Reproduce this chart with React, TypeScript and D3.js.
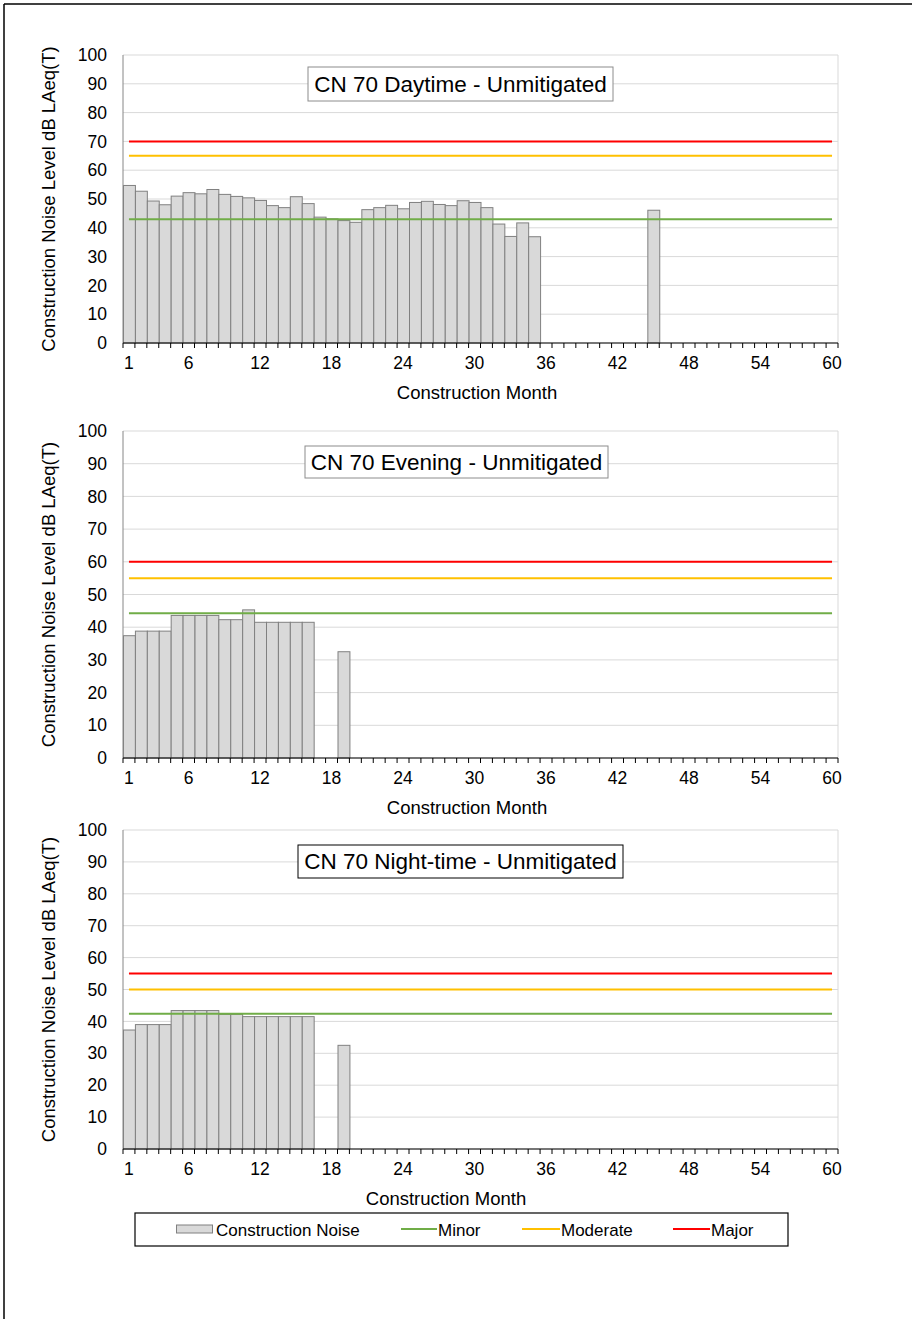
import React from "react";
import * as d3 from "d3";

const months: number[] = Array.from({ length: 60 }, (_, i) => i + 1);
const xTickLabels: number[] = [1, 6, 12, 18, 24, 30, 36, 42, 48, 54, 60];
const yTicks: number[] = [0, 10, 20, 30, 40, 50, 60, 70, 80, 90, 100];

// month -> level (null = no bar)
const daytimeValues: (number | null)[] = [
  54.7, 52.7, 49.3, 48.0, 51.0, 52.2, 51.8, 53.3, 51.6, 50.9,
  50.4, 49.5, 47.7, 47.0, 50.8, 48.4, 43.7, 43.1, 42.5, 41.9,
  46.3, 47.0, 47.8, 46.6, 48.8, 49.2, 48.1, 47.7, 49.4, 48.8,
  47.0, 41.3, 37.0, 41.7, 36.9, null, null, null, null, null,
  null, null, null, null, 46.1, null, null, null, null, null,
  null, null, null, null, null, null, null, null, null, null,
];
const eveningValues: (number | null)[] = [
  37.4, 38.8, 38.8, 38.8, 43.6, 43.6, 43.6, 43.6, 42.3, 42.3,
  45.3, 41.5, 41.5, 41.5, 41.5, 41.5, null, null, 32.5, null,
  ...Array(40).fill(null),
];
const nightValues: (number | null)[] = [
  37.3, 39.0, 39.0, 39.0, 43.4, 43.4, 43.4, 43.4, 42.2, 42.2,
  41.5, 41.5, 41.5, 41.5, 41.5, 41.5, null, null, 32.5, null,
  ...Array(40).fill(null),
];

const daytimeThresholds = { minor: 43, moderate: 65, major: 70 };
const eveningThresholds = { minor: 44.3, moderate: 55, major: 60 };
const nightThresholds = { minor: 42.4, moderate: 50, major: 55 };

const titles = [
  "CN 70 Daytime - Unmitigated",
  "CN 70 Evening - Unmitigated",
  "CN 70 Night-time - Unmitigated",
];

const legendLabels = ["Construction Noise", "Minor", "Moderate", "Major"];

const FONT = "'Liberation Sans', Arial, sans-serif";
const COLORS = { bar: "#d9d9d9", barStroke: "#808080", minor: "#70ad47", moderate: "#ffc000", major: "#ff0000", grid: "#d9d9d9" };

type PanelProps = {
  top: number;
  bottom: number;
  values: (number | null)[];
  thr: { minor: number; moderate: number; major: number };
  title: string;
  titleBox: [number, number, number, number];
  titleBorder: string;
  xTitleX: number;
};

const LEFT = 123;
const RIGHT = 838;

function Panel({ top, bottom, values, thr, title, titleBox, titleBorder, xTitleX }: PanelProps) {
  const x = d3.scaleBand<number>().domain(months).range([LEFT, RIGHT]).padding(0);
  const y = d3.scaleLinear().domain([0, 100]).range([bottom, top]);
  const bw = x.bandwidth();
  const x1 = (x(1) as number) + bw / 2;
  const x60 = (x(60) as number) + bw / 2;
  return (
    <g>
      {yTicks.map((t) => (
        <line key={"g" + t} x1={LEFT} x2={RIGHT} y1={y(t)} y2={y(t)} stroke={COLORS.grid} strokeWidth={1} />
      ))}
      <line x1={RIGHT} x2={RIGHT} y1={top} y2={bottom} stroke={COLORS.grid} strokeWidth={1} />
      {values.map((v, i) =>
        v == null ? null : (
          <rect
            key={"b" + i}
            x={(x(months[i]) as number) + 0.5}
            y={y(v)}
            width={bw}
            height={bottom - y(v)}
            fill={COLORS.bar}
            stroke={COLORS.barStroke}
            strokeWidth={1}
          />
        )
      )}
      <line x1={x1} x2={x60} y1={y(thr.minor)} y2={y(thr.minor)} stroke={COLORS.minor} strokeWidth={2} />
      <line x1={x1} x2={x60} y1={y(thr.moderate)} y2={y(thr.moderate)} stroke={COLORS.moderate} strokeWidth={2} />
      <line x1={x1} x2={x60} y1={y(thr.major)} y2={y(thr.major)} stroke={COLORS.major} strokeWidth={2} />
      <line x1={LEFT} x2={LEFT} y1={top} y2={bottom} stroke="#868686" strokeWidth={1} />
      <line x1={LEFT} x2={RIGHT} y1={bottom} y2={bottom} stroke="#000" strokeWidth={1.2} />
      {d3.range(61).map((k) => {
        const xx = LEFT + k * bw;
        return <line key={"t" + k} x1={xx} x2={xx} y1={bottom} y2={bottom + 5} stroke="#000" strokeWidth={1} />;
      })}
      {yTicks.map((t) => (
        <text key={"yl" + t} x={107} y={y(t)} dy="0.35em" textAnchor="end" fontSize={17.5} fontFamily={FONT} fill="#000">
          {t}
        </text>
      ))}
      {xTickLabels.map((m) => (
        <text key={"xl" + m} x={(x(m) as number) + bw / 2} y={bottom + 26} textAnchor="middle" fontSize={17.5} fontFamily={FONT} fill="#000">
          {m}
        </text>
      ))}
      <text x={xTitleX} y={bottom + 56} textAnchor="middle" fontSize={18.5} fontFamily={FONT} fill="#000">
        Construction Month
      </text>
      <text
        transform={`translate(55,${(top + bottom) / 2}) rotate(-90)`}
        textAnchor="middle"
        fontSize={18.5}
        fontFamily={FONT}
        fill="#000"
      >
        Construction Noise Level dB LAeq(T)
      </text>
      <rect x={titleBox[0]} y={titleBox[1]} width={titleBox[2] - titleBox[0]} height={titleBox[3] - titleBox[1]} fill="#fff" stroke={titleBorder} strokeWidth={1} />
      <text x={(titleBox[0] + titleBox[2]) / 2} y={(titleBox[1] + titleBox[3]) / 2} dy="0.35em" textAnchor="middle" fontSize={22.5} fontFamily={FONT} fill="#000">
        {title}
      </text>
    </g>
  );
}

export default function App() {
  return (
    <svg
      width={912}
      height={1319}
      style={{ position: "absolute", left: 0, top: 0, background: "#fff" }}
      xmlns="http://www.w3.org/2000/svg"
    >
      <rect x={0} y={0} width={912} height={1319} fill="#fff" />
      <line x1={4} x2={4} y1={4} y2={1319} stroke="#000" strokeWidth={1.5} />
      <line x1={4} x2={912} y1={4} y2={4} stroke="#000" strokeWidth={1.5} />
      <Panel top={55} bottom={343} values={daytimeValues} thr={daytimeThresholds} title={titles[0]} titleBox={[308, 67, 613, 101]} titleBorder="#8c8c8c" xTitleX={477} />
      <Panel top={431} bottom={758} values={eveningValues} thr={eveningThresholds} title={titles[1]} titleBox={[305, 446, 608, 478]} titleBorder="#8c8c8c" xTitleX={467} />
      <Panel top={830} bottom={1149} values={nightValues} thr={nightThresholds} title={titles[2]} titleBox={[298, 845, 623, 878]} titleBorder="#000" xTitleX={446} />
      <g>
        <rect x={135} y={1213} width={653} height={33} fill="#fff" stroke="#000" strokeWidth={1.2} />
        <rect x={176.5} y={1225} width={36} height={8} fill={COLORS.bar} stroke={COLORS.barStroke} strokeWidth={1} />
        <text x={216} y={1235.5} fontSize={17} fontFamily={FONT} fill="#000">{legendLabels[0]}</text>
        <line x1={401} x2={437} y1={1229} y2={1229} stroke={COLORS.minor} strokeWidth={2} />
        <text x={438} y={1235.5} fontSize={17} fontFamily={FONT} fill="#000">{legendLabels[1]}</text>
        <line x1={522} x2={560} y1={1229} y2={1229} stroke={COLORS.moderate} strokeWidth={2} />
        <text x={561} y={1235.5} fontSize={17} fontFamily={FONT} fill="#000">{legendLabels[2]}</text>
        <line x1={673} x2={710} y1={1229} y2={1229} stroke={COLORS.major} strokeWidth={2} />
        <text x={711} y={1235.5} fontSize={17} fontFamily={FONT} fill="#000">{legendLabels[3]}</text>
      </g>
    </svg>
  );
}
